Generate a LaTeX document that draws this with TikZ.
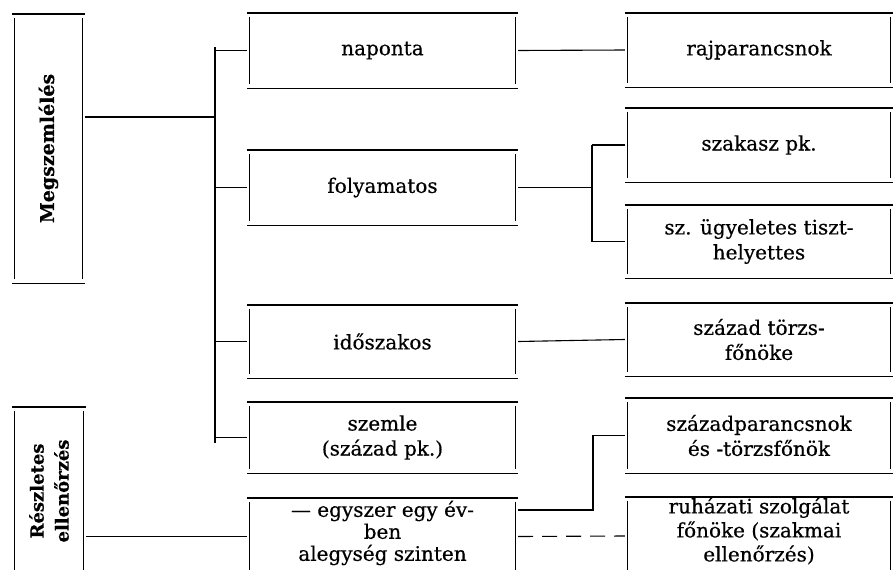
\documentclass[tikz,border=0pt]{standalone}
\usepackage{fontspec}
\setmainfont{DejaVu Serif}[FakeBold=0.5]
\tikzset{
  x=1pt, y=-1pt,
  box/.style={draw=none, inner sep=0pt, minimum width=#1},
  box/.default=271pt,
  lbl/.style={font=\fontsize{20}{25}\selectfont, align=center, inner sep=0pt},
  side/.style={font=\fontsize{19}{24}\selectfont\bfseries, align=center, inner sep=0pt, rotate=90},
  hline/.style={line width=1.4pt},
  vline/.style={line width=1pt},
  conn/.style={line width=1.1pt},
}
\newcommand\frameit[1]{%
  \draw[hline] (#1.north west) -- (#1.north east);
  \draw[hline] (#1.south west) -- (#1.south east);
  \draw[vline] ([xshift=3pt,yshift=-4pt]#1.north west) -- ([xshift=3pt,yshift=4pt]#1.south west);
  \draw[vline] ([xshift=-3pt,yshift=-4pt]#1.north east) -- ([xshift=-3pt,yshift=4pt]#1.south east);
}
\begin{document}
\begin{tikzpicture}
\useasboundingbox[fill=white] (0,0) rectangle (894,570);
% left boxes
\node[box=73pt, minimum height=269pt] (meg) at (48.5,148.5) {};
\node[side] (megt) at (meg) {Megszemlélés};
\node[box=74pt, minimum height=168pt] (resz) at (49,491) {};
\node[side, font=\fontsize{18}{25}\selectfont\bfseries] (reszt) at (resz) {Részletes\\ellenőrzés};
% middle boxes
\node[box, minimum height=75pt, lbl] (nap) at (382.5,50.5) {naponta};
\node[box, minimum height=75pt, lbl] (foly) at (382.5,187.5) {folyamatos};
\node[box, minimum height=73pt, lbl] (ido) at (382.5,341.5) {időszakos};
\node[box, minimum height=71pt, lbl] (szem) at (382.5,437.5) {szemle\\(század pk.)};
\node[box, minimum height=77pt] (egy) at (382.5,536.5) {};
\node[lbl, font=\fontsize{20}{22}\selectfont] (egyt) at (382.5,533) {— egyszer egy év-\\ben\\alegység szinten};
% right boxes
\node[box=268pt, minimum height=74pt, lbl] (raj) at (759,50) {rajparancsnok};
\node[box=268pt, minimum height=74pt, lbl] (szak) at (759,145) {szakasz pk.};
\node[box=268pt, minimum height=73pt, lbl] (ugy) at (759,241.5) {sz. ügyeletes tiszt-\\helyettes};
\node[box=268pt, minimum height=73pt, lbl] (torzs) at (759,339.5) {század törzs-\\főnöke};
\node[box=268pt, minimum height=75pt, lbl] (szpk) at (759,435.5) {századparancsnok\\és -törzsfőnök};
\node[box=268pt, minimum height=78pt] (ruh) at (759,536) {};
\node[lbl, font=\fontsize{20}{24}\selectfont] (ruht) at (759,531) {ruházati szolgálat\\főnöke (szakmai\\ellenőrzés)};
\foreach \n in {meg,resz,nap,foly,ido,szem,egy,raj,szak,ugy,torzs,szpk,ruh} {\frameit{\n}}
% trunk
\coordinate (ttop) at (215,47);
\coordinate (tbot) at (215,443);
\coordinate (tj) at (215,117);
\draw[conn] (ttop) -- (tbot);
\draw[conn] (meg.east |- tj) -- (tj);
\foreach \n in {nap,foly,ido,szem} {\draw[conn] (\n.west -| ttop) -- (\n.west);}
% right connectors
\draw[conn] (nap.east) -- (raj.west);
\coordinate (fork) at (592,187.5);
\draw[conn] (foly.east) -- (fork);
\draw[conn] (fork |- szak.west) -- (fork |- ugy.west);
\draw[conn] (fork |- szak.west) -- (szak.west);
\draw[conn] (fork |- ugy.west) -- (ugy.west);
\draw[conn] (ido.east) -- (torzs.west);
\coordinate (f2) at (593,510);
\draw[conn] (egy.east |- f2) -- (f2) |- (szpk.west);
\draw[conn, dash pattern=on 15pt off 9pt] (egy.east) -- (ruh.west);
\draw[conn] (resz.east |- egy.west) -- (egy.west);
\end{tikzpicture}
\end{document}
